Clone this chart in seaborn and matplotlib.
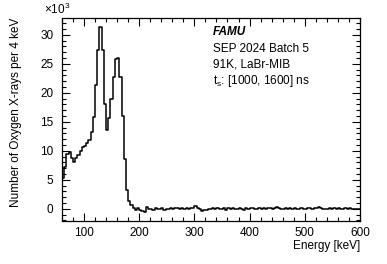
import numpy as np
import pandas as pd
import matplotlib
matplotlib.use("Agg")
import matplotlib.pyplot as plt
import seaborn as sns
from matplotlib.ticker import MultipleLocator

# =========================================================
# DATA (counts per 4 keV bin, in units of 10^3)
# =========================================================
e_min, e_max, bin_width = 60, 600, 4

peak_counts = [5.3, 7.2, 9.4, 9.8, 8.8, 8.1, 8.7, 9.3, 10.0, 10.6,
               10.9, 11.3, 11.8, 13.3, 15.9, 21.3, 27.3, 31.3, 27.3, 18.1,
               13.5, 15.7, 19.0, 22.7, 25.9, 26.0, 22.7, 16.0, 8.5, 3.2,
               1.3, 0.6, 0.2, -0.2, 0.1]

tail_counts = [-0.2, -0.4, -0.6, 0.3, -0.1, 0.0, -0.2, 0.1, -0.1, 0.0,
               0.1, -0.2, -0.1, 0.0, 0.1, 0.0, 0.1, 0.1, 0.0, 0.1,
               0.0, 0.1, 0.0, 0.2, 0.1, 0.4, 0.2, -0.1, -0.3, -0.2,
               -0.2, 0.0, -0.1, 0.1, 0.0, 0.1, -0.1, 0.0, 0.1, -0.2,
               0.1, -0.1, 0.2, 0.0, -0.1, 0.1, 0.0, -0.2, 0.1, 0.0,
               0.2, 0.1, 0.0, -0.1, 0.1, 0.0, 0.1, -0.1, 0.2, 0.1,
               0.0, 0.1, 0.3, 0.1, 0.0, -0.1, 0.1, 0.0, 0.2, 0.0,
               0.1, -0.1, 0.0, 0.1, -0.1, 0.0, 0.2, 0.1, 0.0, 0.1,
               0.1, 0.3, 0.1, 0.0, -0.1, 0.0, 0.1, -0.1, 0.1, 0.0,
               0.1, 0.0, -0.1, 0.1, 0.0, 0.1, 0.0, -0.1, 0.0, -0.1]

counts = peak_counts + tail_counts
centers = np.arange(e_min, e_max, bin_width) + bin_width / 2

df = pd.DataFrame({"energy": centers, "counts": counts})

label_lines = ["SEP 2024 Batch 5", "91K, LaBr-MIB", r"t$_{\mathrm{s}}$: [1000, 1600] ns"]

# =========================================================
# PLOT
# =========================================================
sns.set_theme(style="ticks")
plt.rcParams["font.family"] = ["Liberation Sans", "DejaVu Sans"]
plt.rcParams["mathtext.fontset"] = "custom"
plt.rcParams["mathtext.rm"] = "Liberation Sans"
plt.rcParams["text.color"] = "black"
plt.rcParams["axes.labelcolor"] = "black"

fig = plt.figure(figsize=(3.87, 2.64), dpi=100)
ax = fig.add_axes([0.160, 0.163, 0.770, 0.769])

sns.histplot(data=df, x="energy", weights="counts", binwidth=bin_width,
             binrange=(e_min, e_max), element="step", fill=False,
             color="black", linewidth=1.1, ax=ax)

ax.set_xlim(60, 600)
ax.set_ylim(-2.1, 32.9)

ax.xaxis.set_major_locator(MultipleLocator(100))
ax.xaxis.set_minor_locator(MultipleLocator(20))
ax.yaxis.set_major_locator(MultipleLocator(5))
ax.yaxis.set_minor_locator(MultipleLocator(1))
ax.tick_params(which="both", direction="in", top=True, right=True,
               width=0.8, labelsize=8.5, colors="black")
ax.tick_params(which="major", length=5.5)
ax.tick_params(which="minor", length=2.8)
ax.tick_params(axis="y", pad=6)
ax.tick_params(axis="x", pad=4)
for s in ax.spines.values():
    s.set_linewidth(0.9)
    s.set_color("black")

ax.set_xlabel("Energy [keV]", fontsize=8.5, loc="right", labelpad=1)
ax.set_ylabel("Number of Oxygen X-rays per 4 keV", fontsize=8.5, loc="top", labelpad=13)

fig.text(0.114, 0.965, r"$\times10^{3}$", fontsize=8.5, va="center", ha="left")

ax.text(0.506, 0.931, "FAMU", transform=ax.transAxes, fontsize=8.5,
        fontweight="bold", fontstyle="italic", va="center")
for i, line in enumerate(label_lines):
    ax.text(0.506, 0.849 - 0.079 * i, line, transform=ax.transAxes,
            fontsize=8.5, va="center")

fig.savefig("out.png", dpi=100)
